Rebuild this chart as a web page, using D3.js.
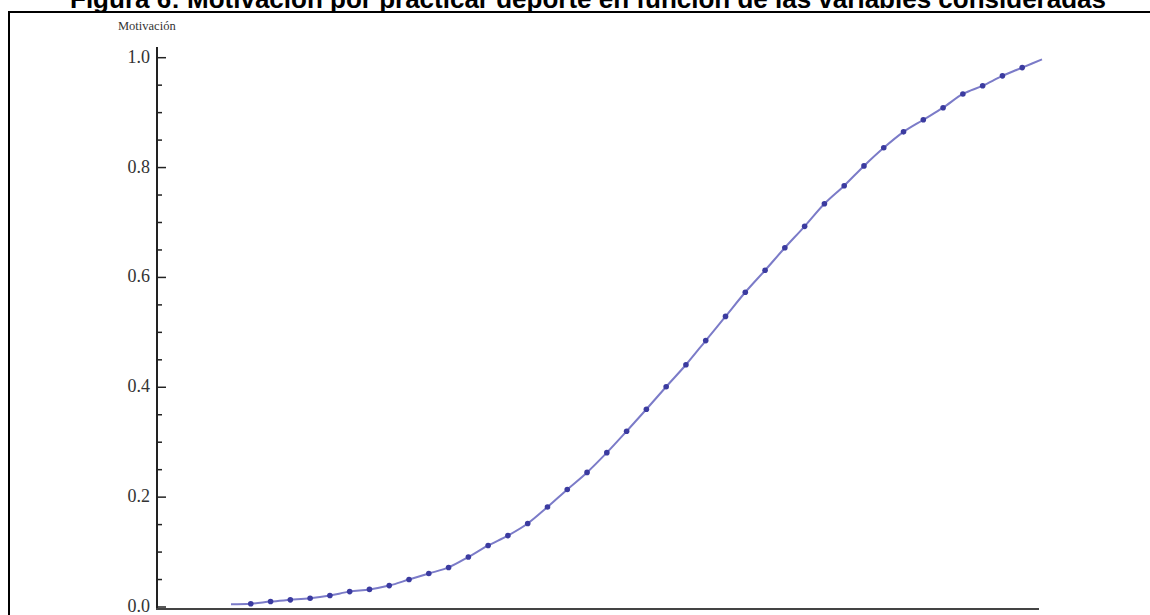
<!DOCTYPE html>
<html>
<head>
<meta charset="utf-8">
<script src="https://cdn.jsdelivr.net/npm/d3@7"></script>
<style>
  html, body { margin: 0; padding: 0; background: #fff; }
  svg { display: block; }
</style>
</head>
<body>
<svg id="chart" width="1150" height="615"></svg>
<script>
const title = "Figura 6: Motivación por practicar deporte en función de las variables consideradas";
const yAxisLabel = "Motivación";
const yTicks = [0.0, 0.2, 0.4, 0.6, 0.8, 1.0];
const yTickLabels = ["0.0", "0.2", "0.4", "0.6", "0.8", "1.0"];
const steps = d3.range(42);
const motivation = [
  0.005, 0.006, 0.010, 0.013, 0.016, 0.021, 0.028, 0.032, 0.039, 0.050,
  0.061, 0.072, 0.091, 0.112, 0.130, 0.152, 0.182, 0.214, 0.245, 0.281,
  0.320, 0.360, 0.401, 0.441, 0.485, 0.529, 0.573, 0.613, 0.654, 0.693,
  0.734, 0.767, 0.803, 0.836, 0.865, 0.887, 0.909, 0.934, 0.949, 0.967,
  0.982, 0.997
];

const svg = d3.select("#chart");

// frame (clipped on right and bottom)
svg.append("rect")
  .attr("x", 9).attr("y", 12).attr("width", 1300).attr("height", 700)
  .attr("fill", "none").attr("stroke", "#000").attr("stroke-width", 2);

// title (partly above the top edge, as in the reference)
svg.append("text")
  .attr("x", 588).attr("y", 8)
  .attr("text-anchor", "middle")
  .attr("font-family", "Liberation Sans, Arial, sans-serif")
  .attr("font-weight", "bold")
  .attr("font-size", 26)
  .attr("fill", "#000")
  .text(title);

const x = d3.scaleLinear().domain([0, 41]).range([231, 1042]);
const y = d3.scaleLinear().domain([0, 1]).range([607, 57.7]);

const axisX = 157;

// y axis line
svg.append("line")
  .attr("x1", axisX).attr("x2", axisX)
  .attr("y1", 47).attr("y2", 610)
  .attr("stroke", "#222").attr("stroke-width", 2);

// x axis line
svg.append("line")
  .attr("x1", axisX - 1).attr("x2", 1039)
  .attr("y1", 609).attr("y2", 609)
  .attr("stroke", "#444").attr("stroke-width", 2);

// major and minor ticks (inward)
const minor = d3.range(0, 1.0001, 0.05).filter(v => Math.abs(v * 5 - Math.round(v * 5)) > 1e-6);
svg.selectAll("line.major").data(yTicks).join("line")
  .attr("class", "major")
  .attr("x1", axisX).attr("x2", axisX + 9)
  .attr("y1", d => y(d)).attr("y2", d => y(d))
  .attr("stroke", "#222").attr("stroke-width", 1.5);
svg.selectAll("line.minor").data(minor).join("line")
  .attr("class", "minor")
  .attr("x1", axisX).attr("x2", axisX + 5)
  .attr("y1", d => y(d)).attr("y2", d => y(d))
  .attr("stroke", "#222").attr("stroke-width", 1.5);

// tick labels
svg.selectAll("text.tick").data(yTicks).join("text")
  .attr("class", "tick")
  .attr("x", axisX - 7)
  .attr("y", d => y(d) - 1)
  .attr("dy", "0.33em")
  .attr("text-anchor", "end")
  .attr("font-family", "Liberation Serif, Times New Roman, serif")
  .attr("font-size", 18)
  .attr("fill", "#333")
  .text((d, i) => yTickLabels[i]);

// axis label
svg.append("text")
  .attr("x", 118).attr("y", 30)
  .attr("font-family", "Liberation Serif, Times New Roman, serif")
  .attr("font-size", 12.5)
  .attr("fill", "#333")
  .text(yAxisLabel);

// line
const line = d3.line().x((d, i) => x(steps[i])).y(d => y(d)).curve(d3.curveMonotoneX);
svg.append("path")
  .datum(motivation)
  .attr("d", line)
  .attr("fill", "none")
  .attr("stroke", "#7b7bc8")
  .attr("stroke-width", 2);

// dots
svg.selectAll("circle.dot").data(motivation.slice(1, 41)).join("circle")
  .attr("class", "dot")
  .attr("cx", (d, i) => x(steps[i + 1]))
  .attr("cy", d => y(d))
  .attr("r", 2.8)
  .attr("fill", "#3b3ba0");
</script>
</body>
</html>
